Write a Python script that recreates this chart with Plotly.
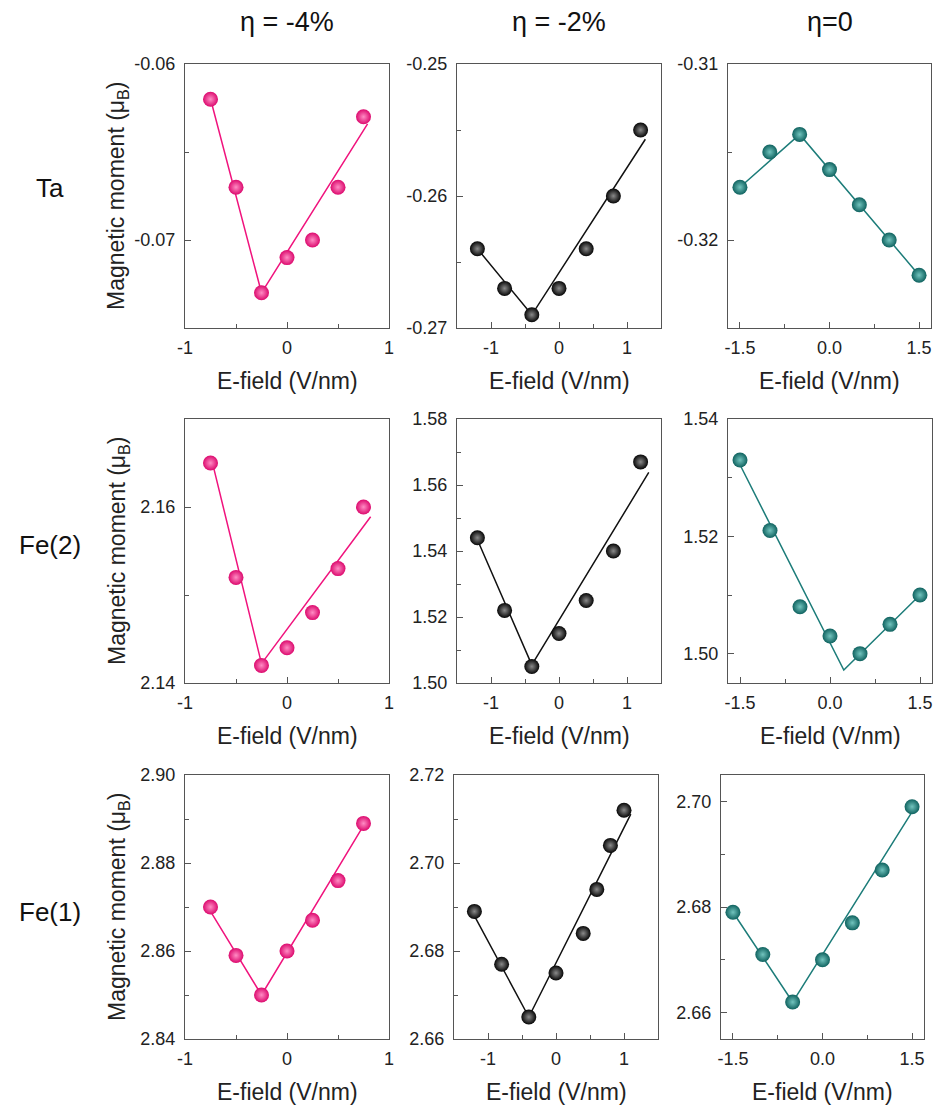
import plotly.graph_objects as go

# ---------------- data ----------------
x_m4 = [-0.75, -0.5, -0.25, 0, 0.25, 0.5, 0.75]
x_m2 = [-1.2, -0.8, -0.4, 0, 0.4, 0.8, 1.2]
x_m2_fe1 = [-1.2, -0.8, -0.4, 0, 0.4, 0.6, 0.8, 1.0]
x_0 = [-1.5, -1.0, -0.5, 0, 0.5, 1.0, 1.5]

ta_m4 = [-0.062, -0.067, -0.073, -0.071, -0.070, -0.067, -0.063]
ta_m2 = [-0.264, -0.267, -0.269, -0.267, -0.264, -0.260, -0.255]
ta_0 = [-0.317, -0.315, -0.314, -0.316, -0.318, -0.320, -0.322]
fe2_m4 = [2.165, 2.152, 2.142, 2.144, 2.148, 2.153, 2.160]
fe2_m2 = [1.544, 1.522, 1.505, 1.515, 1.525, 1.540, 1.567]
fe2_0 = [1.533, 1.521, 1.508, 1.503, 1.500, 1.505, 1.510]
fe1_m4 = [2.870, 2.859, 2.850, 2.860, 2.867, 2.876, 2.889]
fe1_m2 = [2.689, 2.677, 2.665, 2.675, 2.684, 2.694, 2.704, 2.712]
fe1_0 = [2.679, 2.671, 2.662, 2.670, 2.677, 2.687, 2.699]

# piecewise linear fit lines (vertices)
ta_m4_fit_x = [-0.74, -0.25, 0.79]
ta_m4_fit_y = [-0.0622, -0.073, -0.0634]
ta_m2_fit_x = [-1.2, -0.4, 1.27]
ta_m2_fit_y = [-0.264, -0.269, -0.2557]
ta_0_fit_x = [-1.5, -0.5, 1.5]
ta_0_fit_y = [-0.317, -0.314, -0.322]
fe2_m4_fit_x = [-0.72, -0.25, 0.82]
fe2_m4_fit_y = [2.1645, 2.1422, 2.1589]
fe2_m2_fit_x = [-1.2, -0.4, 1.32]
fe2_m2_fit_y = [1.5434, 1.5055, 1.5638]
fe2_0_fit_x = [-1.5, 0.23, 1.5]
fe2_0_fit_y = [1.5322, 1.4972, 1.510]
fe1_m4_fit_x = [-0.75, -0.25, 0.75]
fe1_m4_fit_y = [2.869, 2.850, 2.8885]
fe1_m2_fit_x = [-1.2, -0.4, 1.1]
fe1_m2_fit_y = [2.688, 2.665, 2.7111]
fe1_0_fit_x = [-1.5, -0.5, 1.5]
fe1_0_fit_y = [2.679, 2.662, 2.698]

col_titles = ["η = -4%", "η = -2%", "η=0"]
row_labels = ["Ta", "Fe(2)", "Fe(1)"]

# tick values / labels
xt_a = [-1, 0, 1]
xt_a_lab = ["-1", "0", "1"]
xt_b = [-1.5, 0, 1.5]
xt_b_lab = ["-1.5", "0.0", "1.5"]

yt = [
    [-0.07, -0.06], [-0.27, -0.26, -0.25], [-0.32, -0.31],
    [2.14, 2.16], [1.50, 1.52, 1.54, 1.56, 1.58], [1.50, 1.52, 1.54],
    [2.84, 2.86, 2.88, 2.90], [2.66, 2.68, 2.70, 2.72], [2.66, 2.68, 2.70],
]
yt_lab = [
    ["-0.07", "-0.06"], ["-0.27", "-0.26", "-0.25"], ["-0.32", "-0.31"],
    ["2.14", "2.16"], ["1.50", "1.52", "1.54", "1.56", "1.58"], ["1.50", "1.52", "1.54"],
    ["2.84", "2.86", "2.88", "2.90"], ["2.66", "2.68", "2.70", "2.72"], ["2.66", "2.68", "2.70"],
]

# ---------------- styling ----------------
W, H = 936, 1108
PINK, BLACK, TEAL = "#F0137D", "#111111", "#1C7C79"
col_style = [
    dict(line=PINK, center="#FF8CC4", edge="#DC0A6E"),
    dict(line=BLACK, center="#8A8A8A", edge="#050505"),
    dict(line=TEAL, center="#72C4BE", edge="#0F625F"),
]

# panel boxes in pixels: (left, right, top, bottom)
boxes = [
    (185, 389, 64, 328), (457, 661, 64, 328), (728, 931, 64, 328),
    (185, 389, 419, 683), (457, 661, 419, 683), (728, 932, 419, 683),
    (185, 389, 775, 1039), (454, 658, 775, 1039), (721, 924, 775, 1039),
]

panels = [
    (x_m4, ta_m4, ta_m4_fit_x, ta_m4_fit_y, [-1, 1], [-0.075, -0.06]),
    (x_m2, ta_m2, ta_m2_fit_x, ta_m2_fit_y, [-1.5, 1.5], [-0.27, -0.25]),
    (x_0, ta_0, ta_0_fit_x, ta_0_fit_y, [-1.7, 1.7], [-0.325, -0.31]),
    (x_m4, fe2_m4, fe2_m4_fit_x, fe2_m4_fit_y, [-1, 1], [2.14, 2.17]),
    (x_m2, fe2_m2, fe2_m2_fit_x, fe2_m2_fit_y, [-1.5, 1.5], [1.50, 1.58]),
    (x_0, fe2_0, fe2_0_fit_x, fe2_0_fit_y, [-1.7, 1.7], [1.495, 1.54]),
    (x_m4, fe1_m4, fe1_m4_fit_x, fe1_m4_fit_y, [-1, 1], [2.84, 2.90]),
    (x_m2_fe1, fe1_m2, fe1_m2_fit_x, fe1_m2_fit_y, [-1.5, 1.5], [2.66, 2.72]),
    (x_0, fe1_0, fe1_0_fit_x, fe1_0_fit_y, [-1.7, 1.7], [2.655, 2.705]),
]
y_minor = [0.005, 0.005, 0.005, 0.01, 0.01, 0.01, 0.01, 0.01, 0.01]

FONT = "Liberation Sans, Arial, sans-serif"
AX_COLOR = "#555555"

fig = go.Figure()
layout = dict(
    width=W, height=H, margin=dict(l=0, r=0, t=0, b=0, pad=0),
    paper_bgcolor="white", plot_bgcolor="white", showlegend=False,
    font=dict(family=FONT, color="#222222"),
)
annotations = []

for i, (xs, ys, fx, fy, xr, yr) in enumerate(panels):
    r, c = divmod(i, 3)
    st = col_style[c]
    n = "" if i == 0 else str(i + 1)
    xa, ya = "x" + n, "y" + n
    fig.add_trace(go.Scatter(x=fx, y=fy, mode="lines", xaxis=xa, yaxis=ya,
                             line=dict(color=st["line"], width=1.5),
                             hoverinfo="skip"))
    fig.add_trace(go.Scatter(x=xs, y=ys, mode="markers", xaxis=xa, yaxis=ya,
                             marker=dict(size=15, color=st["edge"],
                                         gradient=dict(type="radial", color=st["center"]),
                                         line=dict(width=0))))
    l, rt, t, b = boxes[i]
    if c == 2:
        xt, xl, xminor = xt_b, xt_b_lab, 0.75
    else:
        xt, xl, xminor = xt_a, xt_a_lab, 0.5
    common = dict(showline=True, linecolor=AX_COLOR, linewidth=1.3, mirror=True,
                  ticks="inside", ticklen=6, tickwidth=1.2, tickcolor=AX_COLOR,
                  showgrid=False, zeroline=False, automargin=False,
                  tickfont=dict(family=FONT, size=18, color="#222222"))
    layout["xaxis" + n] = dict(
        domain=[l / W, rt / W], range=xr, anchor=ya,
        tickmode="array", tickvals=xt, ticktext=xl,
        minor=dict(ticks="inside", ticklen=3.5, tickcolor=AX_COLOR,
                   tickmode="linear", tick0=0, dtick=xminor, showgrid=False),
        ticklabelstandoff=3, **common)
    layout["yaxis" + n] = dict(
        domain=[1 - b / H, 1 - t / H], range=yr, anchor=xa,
        tickmode="array", tickvals=yt[i], ticktext=yt_lab[i],
        minor=dict(ticks="inside", ticklen=3.5, tickcolor=AX_COLOR,
                   tickmode="linear", tick0=0, dtick=y_minor[i], showgrid=False),
        ticklabelstandoff=5, **common)
    # x axis title
    annotations.append(dict(text="E-field (V/nm)", xref="paper", yref="paper",
                            x=(l + rt) / 2 / W, y=1 - (b + 53) / H,
                            xanchor="center", yanchor="middle", showarrow=False,
                            font=dict(family=FONT, size=23, color="#222222")))
    if c == 0:
        annotations.append(dict(text="Magnetic moment (μ<sub>B</sub>)",
                                xref="paper", yref="paper",
                                x=118 / W, y=1 - (t + b) / 2 / H, textangle=-90,
                                xanchor="center", yanchor="middle", showarrow=False,
                                font=dict(family=FONT, size=23, color="#222222")))

# column titles
for c, txt in enumerate(col_titles):
    l, rt, t, b = boxes[c]
    annotations.append(dict(text=txt, xref="paper", yref="paper",
                            x=(l + rt) / 2 / W, y=1 - 22 / H,
                            xanchor="center", yanchor="middle", showarrow=False,
                            font=dict(family=FONT, size=27, color="#111111")))
# row labels
row_y = [188, 545, 912]
for rr, txt in enumerate(row_labels):
    annotations.append(dict(text=txt, xref="paper", yref="paper",
                            x=50 / W, y=1 - row_y[rr] / H,
                            xanchor="center", yanchor="middle", showarrow=False,
                            font=dict(family=FONT, size=26, color="#111111")))

layout["annotations"] = annotations
fig.update_layout(**layout)
fig.write_html("out.html",
               config={"displayModeBar": False},
               post_script="document.body.style.margin='0px';"
                           "document.body.style.overflow='hidden';")
